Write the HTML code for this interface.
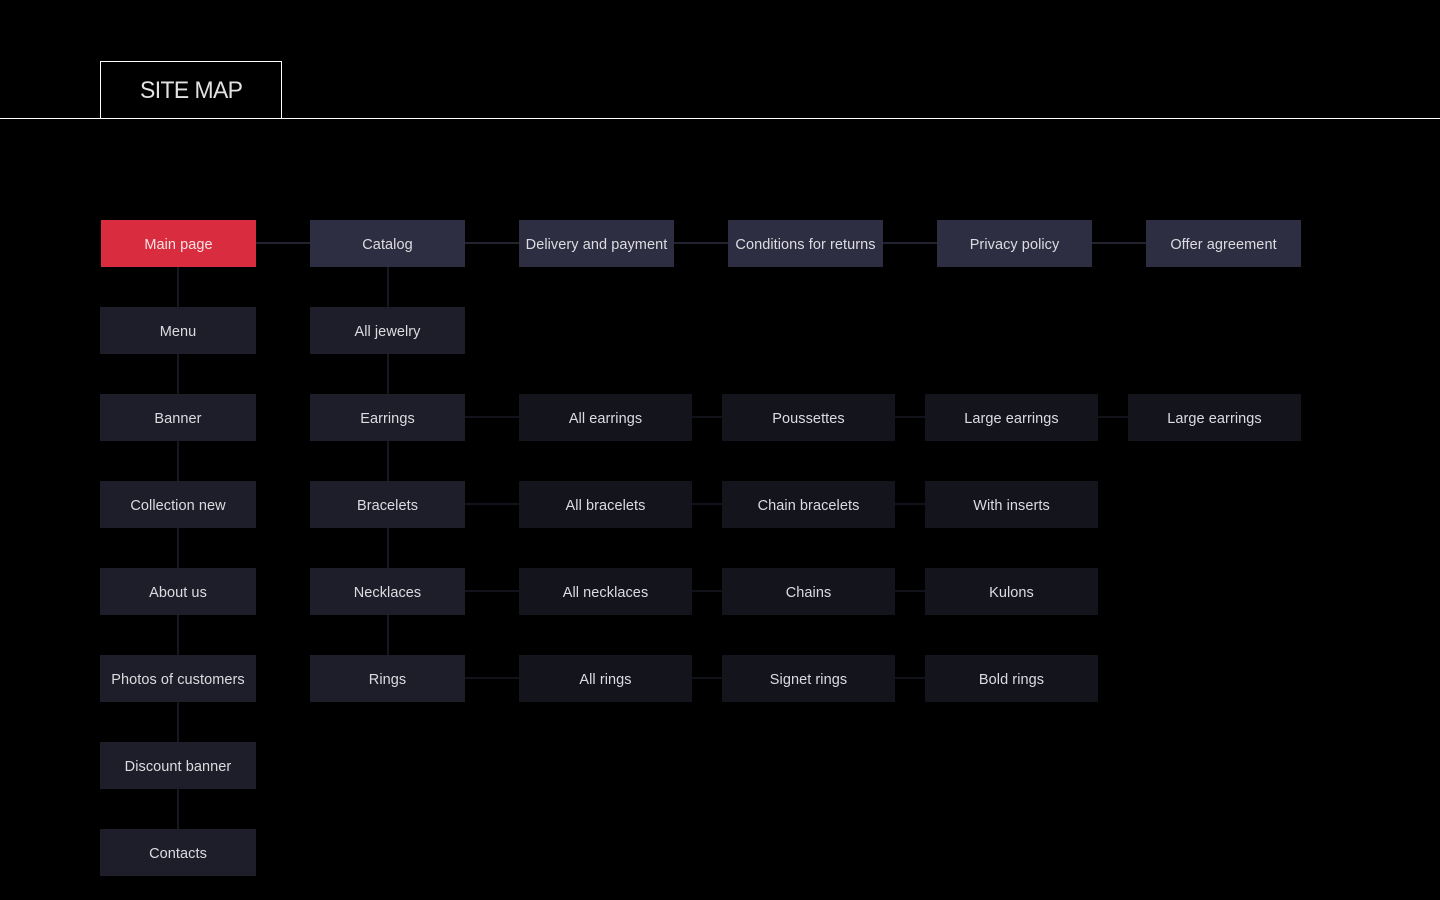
<!DOCTYPE html>
<html><head><meta charset="utf-8"><title>Site map</title>
<style>
html,body{margin:0;padding:0;background:#000;width:1440px;height:900px;overflow:hidden}
body{position:relative;font-family:"Liberation Sans",sans-serif}
.n{position:absolute;height:47px;line-height:51px;text-align:center;color:#dcdce0;font-size:14.5px;letter-spacing:.07px;white-space:nowrap}
.a{background:#2e2e42}.b{background:#1e1e2b}.c{background:#14141d}
.l{position:absolute}
.h{height:2px}.v{width:2px}
.la{background:#23232f}.lb{background:#12121a}
</style></head><body>
<div class="l" style="left:0;top:118px;width:1440px;height:1px;background:#fff"></div>
<div class="l" style="left:100px;top:61px;width:180px;height:57px;border:1px solid #fff;border-bottom:0"></div>
<div class="l" style="left:140px;top:76px;color:#e2e2e2;font-size:24px;line-height:30px;letter-spacing:-.6px;white-space:nowrap;transform:scaleX(.955);transform-origin:0 0">SITE MAP</div>

<div class="l h la" style="left:256px;top:242px;width:54px"></div>
<div class="l h la" style="left:465px;top:242px;width:54px"></div>
<div class="l h la" style="left:674px;top:242px;width:54px"></div>
<div class="l h la" style="left:883px;top:242px;width:54px"></div>
<div class="l h la" style="left:1092px;top:242px;width:54px"></div>

<div class="l v" style="left:177px;top:267px;height:562px;background:#171722"></div>
<div class="l v" style="left:387px;top:267px;height:388px;background:#171722"></div>

<div class="l h lb" style="left:465px;top:416px;width:54px"></div>
<div class="l h lb" style="left:692px;top:416px;width:30px"></div>
<div class="l h lb" style="left:895px;top:416px;width:30px"></div>
<div class="l h lb" style="left:1098px;top:416px;width:30px"></div>
<div class="l h lb" style="left:465px;top:503px;width:54px"></div>
<div class="l h lb" style="left:692px;top:503px;width:30px"></div>
<div class="l h lb" style="left:895px;top:503px;width:30px"></div>
<div class="l h lb" style="left:465px;top:590px;width:54px"></div>
<div class="l h lb" style="left:692px;top:590px;width:30px"></div>
<div class="l h lb" style="left:895px;top:590px;width:30px"></div>
<div class="l h lb" style="left:465px;top:677px;width:54px"></div>
<div class="l h lb" style="left:692px;top:677px;width:30px"></div>
<div class="l h lb" style="left:895px;top:677px;width:30px"></div>

<div class="n" style="left:101px;top:220px;width:155px;background:#da2c3f;color:#f6e4e6">Main page</div>
<div class="n a" style="left:310px;top:220px;width:155px">Catalog</div>
<div class="n a" style="left:519px;top:220px;width:155px">Delivery and payment</div>
<div class="n a" style="left:728px;top:220px;width:155px">Conditions for returns</div>
<div class="n a" style="left:937px;top:220px;width:155px">Privacy policy</div>
<div class="n a" style="left:1146px;top:220px;width:155px">Offer agreement</div>

<div class="n b" style="left:100px;top:307px;width:156px">Menu</div>
<div class="n b" style="left:100px;top:394px;width:156px">Banner</div>
<div class="n b" style="left:100px;top:481px;width:156px">Collection new</div>
<div class="n b" style="left:100px;top:568px;width:156px">About us</div>
<div class="n b" style="left:100px;top:655px;width:156px">Photos of customers</div>
<div class="n b" style="left:100px;top:742px;width:156px">Discount banner</div>
<div class="n b" style="left:100px;top:829px;width:156px">Contacts</div>

<div class="n b" style="left:310px;top:307px;width:155px">All jewelry</div>
<div class="n b" style="left:310px;top:394px;width:155px">Earrings</div>
<div class="n b" style="left:310px;top:481px;width:155px">Bracelets</div>
<div class="n b" style="left:310px;top:568px;width:155px">Necklaces</div>
<div class="n b" style="left:310px;top:655px;width:155px">Rings</div>

<div class="n c" style="left:519px;top:394px;width:173px">All earrings</div>
<div class="n c" style="left:722px;top:394px;width:173px">Poussettes</div>
<div class="n c" style="left:925px;top:394px;width:173px">Large earrings</div>
<div class="n c" style="left:1128px;top:394px;width:173px">Large earrings</div>
<div class="n c" style="left:519px;top:481px;width:173px">All bracelets</div>
<div class="n c" style="left:722px;top:481px;width:173px">Chain bracelets</div>
<div class="n c" style="left:925px;top:481px;width:173px">With inserts</div>
<div class="n c" style="left:519px;top:568px;width:173px">All necklaces</div>
<div class="n c" style="left:722px;top:568px;width:173px">Chains</div>
<div class="n c" style="left:925px;top:568px;width:173px">Kulons</div>
<div class="n c" style="left:519px;top:655px;width:173px">All rings</div>
<div class="n c" style="left:722px;top:655px;width:173px">Signet rings</div>
<div class="n c" style="left:925px;top:655px;width:173px">Bold rings</div>
</body></html>
